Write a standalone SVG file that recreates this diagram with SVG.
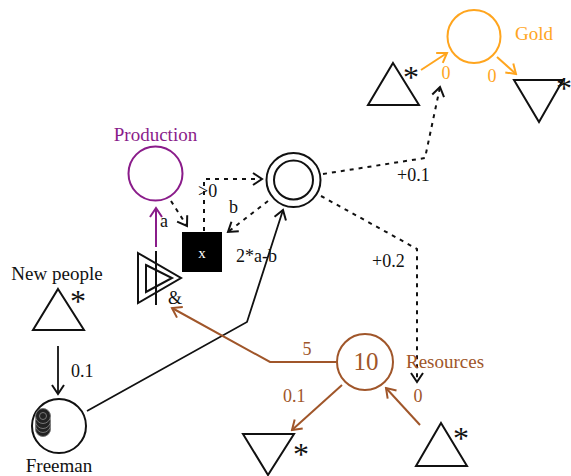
<svg xmlns="http://www.w3.org/2000/svg" width="571" height="476" viewBox="0 0 571 476">
  <defs>
    <marker id="arrow-black" markerUnits="userSpaceOnUse" markerWidth="14" markerHeight="14" viewBox="-12 -7 14 14" refX="0" refY="0" orient="auto">
      <path d="M-9,-6 L0,0 L-9,6" fill="none" stroke="#111" stroke-width="2"/>
    </marker>
    <marker id="arrow-purple" markerUnits="userSpaceOnUse" markerWidth="14" markerHeight="14" viewBox="-12 -7 14 14" refX="0" refY="0" orient="auto">
      <path d="M-9,-6 L0,0 L-9,6" fill="none" stroke="#8a1c8a" stroke-width="2"/>
    </marker>
    <marker id="arrow-gold" markerUnits="userSpaceOnUse" markerWidth="14" markerHeight="14" viewBox="-12 -7 14 14" refX="0" refY="0" orient="auto">
      <path d="M-9,-6 L0,0 L-9,6" fill="none" stroke="#ffa51e" stroke-width="2"/>
    </marker>
    <marker id="arrow-brown" markerUnits="userSpaceOnUse" markerWidth="14" markerHeight="14" viewBox="-12 -7 14 14" refX="0" refY="0" orient="auto">
      <path d="M-9,-6 L0,0 L-9,6" fill="none" stroke="#a0562a" stroke-width="2"/>
    </marker>
  </defs>
  <style>
    text { font-family: "Liberation Serif", "Times New Roman", serif; font-size: 18px; fill: #111; }
    .label { font-size: 19px; }
    .purple { fill: #8a1c8a; }
    .gold { fill: #ffa51e; }
    .brown { fill: #a0562a; }
    .star { font-size: 32px; }
    .shape { fill: none; stroke: #111; stroke-width: 2; }
    .flow { fill: none; stroke: #111; stroke-width: 1.8; }
    .state { fill: none; stroke: #111; stroke-width: 2; stroke-dasharray: 4 5; }
    .mid { text-anchor: middle; }
  </style>

  <!-- connectors -->
  <g id="connectors">
    <!-- state connections (dotted) -->
    <path class="state" d="M171,201 L187,226" marker-end="url(#arrow-black)"/>
    <path class="state" d="M204,231 L204,179 L262,179" marker-end="url(#arrow-black)"/>
    <path class="state" d="M268,201 L228,232" marker-end="url(#arrow-black)"/>
    <path class="state" d="M323,174 L425,158 L440,87" marker-end="url(#arrow-black)"/>
    <path class="state" d="M321,196 L417,249 L417,382" marker-end="url(#arrow-black)"/>

    <!-- resource flows -->
    <path d="M156,247 L156,208" fill="none" stroke="#8a1c8a" stroke-width="2" marker-end="url(#arrow-purple)"/>
    <path class="flow" d="M87,411 L247,322 L283,210" marker-end="url(#arrow-black)"/>
    <path class="flow" d="M58,346 L58,394" marker-end="url(#arrow-black)"/>
    <path d="M421,70 L447,53" fill="none" stroke="#ffa51e" stroke-width="2" marker-end="url(#arrow-gold)"/>
    <path d="M497,57 L516,74" fill="none" stroke="#ffa51e" stroke-width="2" marker-end="url(#arrow-gold)"/>
    <path d="M336,362 L270,362 L172,308" fill="none" stroke="#a0562a" stroke-width="2" marker-end="url(#arrow-brown)"/>
    <path d="M342,385 L292,430" fill="none" stroke="#a0562a" stroke-width="2" marker-end="url(#arrow-brown)"/>
    <path d="M420,425 L386,388" fill="none" stroke="#a0562a" stroke-width="2" marker-end="url(#arrow-brown)"/>

    <!-- connector labels -->
    <text x="160" y="227">a</text>
    <text x="198" y="197">&gt;0</text>
    <text x="229" y="213">b</text>
    <text x="236" y="262">2*a-b</text>
    <text x="397" y="181">+0.1</text>
    <text x="372" y="267">+0.2</text>
    <text x="71" y="377">0.1</text>
    <text class="gold mid" x="446" y="79">0</text>
    <text class="gold mid" x="492" y="82">0</text>
    <text class="brown mid" x="307" y="355">5</text>
    <text class="brown" x="283" y="402">0.1</text>
    <text class="brown mid" x="418" y="402">0</text>
  </g>

  <!-- Production pool -->
  <g id="production">
    <circle cx="155.5" cy="173.5" r="27" fill="none" stroke="#8a1c8a" stroke-width="2"/>
    <text class="label purple mid" x="155.5" y="141">Production</text>
  </g>

  <!-- converter -->
  <g id="converter">
    <polygon class="shape" points="138,253 181,278 138,303"/>
    <polygon class="shape" points="146,265 172,278 146,292"/>
    <line x1="156" y1="251" x2="156" y2="305" stroke="#111" stroke-width="2"/>
    <text class="mid" x="175" y="304">&amp;</text>
  </g>

  <!-- register x -->
  <g id="register">
    <rect x="182" y="232" width="40" height="40" fill="#000"/>
    <text class="mid" x="202" y="258" style="fill:#fff;font-size:15px">x</text>
  </g>

  <!-- end condition -->
  <g id="end-condition">
    <circle class="shape" cx="293.5" cy="180" r="27"/>
    <circle class="shape" cx="293.5" cy="180" r="19.5"/>
  </g>

  <!-- Gold pool -->
  <g id="gold">
    <circle cx="474" cy="36.5" r="26.5" fill="none" stroke="#ffa51e" stroke-width="2"/>
    <text class="label gold" x="515" y="40">Gold</text>
  </g>

  <g id="gold-source">
    <polygon class="shape" points="393,63 419,105 368,105"/>
    <text class="star mid" x="411" y="88">*</text>
  </g>

  <g id="gold-drain">
    <polygon class="shape" points="514,80 563,80 539,122"/>
    <text class="star mid" x="564" y="99">*</text>
  </g>

  <!-- New people source -->
  <g id="new-people">
    <polygon class="shape" points="58,289 84,330 33,330"/>
    <text class="star mid" x="78" y="312">*</text>
    <text class="label mid" x="57" y="280">New people</text>
  </g>

  <!-- Freeman pool with tokens -->
  <g id="freeman">
    <circle class="shape" cx="59" cy="426" r="27"/>
    <circle cx="43" cy="429" r="7.5" fill="#222" stroke="#777" stroke-width="1"/>
    <circle cx="43" cy="425" r="7.5" fill="#222" stroke="#777" stroke-width="1"/>
    <circle cx="43" cy="421" r="7.5" fill="#222" stroke="#777" stroke-width="1"/>
    <circle cx="43" cy="416" r="7.5" fill="#222" stroke="#777" stroke-width="1"/>
    <circle cx="43" cy="416" r="3.5" fill="none" stroke="#777" stroke-width="1"/>
    <text class="label mid" x="59" y="472">Freeman</text>
  </g>

  <!-- Resources pool -->
  <g id="resources">
    <circle cx="365" cy="362" r="28" fill="none" stroke="#a0562a" stroke-width="2"/>
    <text class="brown mid" x="366" y="370" style="font-size:25px">10</text>
    <text class="label brown" x="406" y="368">Resources</text>
  </g>

  <g id="resource-drain">
    <polygon class="shape" points="243,434 294,434 268,475"/>
    <text class="star mid" x="301" y="465">*</text>
  </g>

  <g id="resource-source">
    <polygon class="shape" points="441,423 467,466 416,466"/>
    <text class="star mid" x="461" y="449">*</text>
  </g>
</svg>
